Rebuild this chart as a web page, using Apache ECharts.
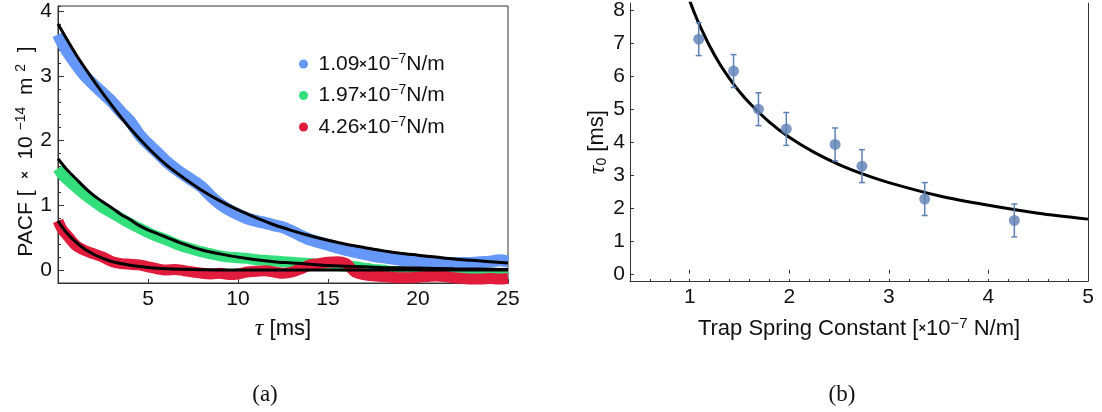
<!DOCTYPE html>
<html>
<head>
<meta charset="utf-8">
<script src="https://cdn.jsdelivr.net/npm/echarts@6/dist/echarts.min.js"></script>
<style>
  html, body { margin: 0; padding: 0; background: #fff; }
  #chart { width: 1102px; height: 412px; }
</style>
</head>
<body>
<div id="chart"></div>
<script>
// panel (a): PACF bands, sampled along tau [ms]
const tBand = [0, 0.25, 0.5, 1, 1.5, 2, 2.5, 3, 3.5, 4, 4.5, 5, 5.5, 6, 6.5, 7, 7.5, 8, 8.5, 9, 9.5, 10,
  10.5, 11, 11.5, 12, 12.5, 13, 13.5, 14, 14.5, 15, 15.5, 16, 16.5, 17, 17.5, 18, 18.5, 19, 19.5, 20,
  20.5, 21, 21.5, 22, 22.5, 23, 23.5, 24, 24.5, 25]
const bandBlue = [3.64, 3.5, 3.38, 3.18, 3.0, 2.86, 2.73, 2.6, 2.44, 2.3, 2.1, 1.95, 1.82, 1.68, 1.57, 1.47,
  1.38, 1.28, 1.14, 1.02, 0.93, 0.86, 0.8, 0.76, 0.73, 0.69, 0.66, 0.6, 0.53, 0.47, 0.43, 0.39, 0.35, 0.31,
  0.28, 0.25, 0.22, 0.2, 0.18, 0.16, 0.15, 0.14, 0.13, 0.12, 0.11, 0.11, 0.11, 0.11, 0.12, 0.13, 0.15, 0.13]
const bandGreen = [1.57, 1.47, 1.4, 1.28, 1.16, 1.06, 0.96, 0.88, 0.8, 0.72, 0.65, 0.58, 0.52, 0.47, 0.41,
  0.36, 0.32, 0.28, 0.25, 0.22, 0.2, 0.19, 0.18, 0.16, 0.15, 0.14, 0.13, 0.12, 0.11, 0.1, 0.09, 0.08, 0.07,
  0.06, 0.05, 0.03, 0.01, 0.0, -0.02, -0.03, -0.04, -0.05, -0.05, -0.06, -0.06, -0.06, -0.06, -0.05, -0.06,
  -0.06, -0.06, -0.06]
const bandRed = [0.76, 0.62, 0.54, 0.38, 0.3, 0.25, 0.2, 0.13, 0.1, 0.09, 0.08, 0.05, 0.02, 0.0, 0.01, -0.01,
  -0.03, -0.05, -0.06, -0.05, -0.07, -0.06, -0.03, -0.02, -0.01, -0.03, -0.05, -0.03, 0.02, 0.08, 0.1, 0.12,
  0.13, 0.1, -0.03, -0.07, -0.09, -0.1, -0.11, -0.12, -0.12, -0.11, -0.1, -0.09, -0.1, -0.12, -0.13, -0.14,
  -0.14, -0.13, -0.14, -0.13]

// panel (a): fitted curves
const fitBlueT = [0, 1, 2, 3, 4, 5, 6, 7, 8, 9, 10, 11, 12, 13, 14, 15, 16, 17, 18, 19, 20, 21, 22, 23, 24, 25]
const fitBlue = [3.8, 3.33, 2.92, 2.54, 2.19, 1.89, 1.63, 1.42, 1.23, 1.07, 0.93, 0.81, 0.7, 0.61, 0.53, 0.46,
  0.4, 0.35, 0.3, 0.26, 0.23, 0.2, 0.17, 0.15, 0.13, 0.11]
const fitGreenT = [0, 0.5, 1, 1.5, 2, 2.5, 3, 3.5, 4, 4.5, 5, 6, 7, 8, 9, 10, 11, 12, 13, 14, 15, 16, 17, 18, 20, 22, 25]
const fitGreen = [1.72, 1.55, 1.41, 1.27, 1.15, 1.05, 0.96, 0.86, 0.78, 0.69, 0.62, 0.51, 0.4, 0.31, 0.25, 0.2,
  0.16, 0.13, 0.11, 0.09, 0.07, 0.06, 0.05, 0.04, 0.03, 0.02, 0.01]
const fitRedT = [0, 0.25, 0.5, 1, 1.5, 2, 2.5, 3, 3.5, 4, 5, 6, 7, 8, 10, 25]
const fitRed = [0.76, 0.66, 0.57, 0.43, 0.32, 0.24, 0.18, 0.13, 0.1, 0.075, 0.04, 0.02, 0.012, 0.006, 0, 0]

const bandNames = ['1.09', '1.97', '4.26']
const bandColors = ['#6497F8', '#33DF7C', '#E11B3B']

// panel (b): tau_0 vs trap spring constant
const kVals = [1.09, 1.44, 1.69, 1.97, 2.46, 2.73, 3.36, 4.26]
const tauVals = [7.13, 6.16, 5.0, 4.4, 3.93, 3.27, 2.27, 1.62]
const tauErr = [0.5, 0.5, 0.5, 0.5, 0.5, 0.5, 0.5, 0.5]
const fitK = [1.0, 1.05, 1.1, 1.2, 1.3, 1.4, 1.5, 1.6, 1.8, 2.0, 2.25, 2.5, 2.75, 3.0, 3.5, 4.0, 4.5, 5.0]
const fitTau = [8.3, 7.9, 7.55, 6.92, 6.38, 5.93, 5.53, 5.19, 4.61, 4.15, 3.69, 3.32, 3.02, 2.77, 2.37, 2.08, 1.84, 1.66]

// tick labels
const leftXTicks = [5, 10, 15, 20, 25]
const leftYTicks = [0, 1, 2, 3, 4]
const rightXTicks = [1, 2, 3, 4, 5]
const rightYTicks = [0, 1, 2, 3, 4, 5, 6, 7, 8]

const FONT = '"Liberation Sans", Arial, sans-serif'
const pointColor = '#5E81B5'
const frameColor = '#333'

// legend / tick text
const richText = {
  i: { fontFamily: '"Liberation Serif", serif', fontStyle: 'italic', fontSize: 23, color: '#111' },
  x: { fontFamily: FONT, fontSize: 13, fontWeight: 'bold', color: '#111' },
  sup: { fontFamily: FONT, fontSize: 14, color: '#111', padding: [0, 0, 10, 0] },
  sub: { fontFamily: FONT, fontSize: 14, color: '#111', padding: [10, 0, 0, 0] },
  a: { fontFamily: FONT, fontSize: 21, color: '#111' }
}
// axis titles, a touch larger
const nameRich = {
  ...richText,
  i: { ...richText.i, fontSize: 24 },
  a: { ...richText.a, fontSize: 22 },
  sup: { ...richText.sup, fontSize: 15 }
}

const isInt = v => Math.abs(v - Math.round(v)) < 1e-6
const pairs = (xs, ys) => xs.map((x, i) => [x, ys[i]])

const chart = echarts.init(document.getElementById('chart'), null, { renderer: 'canvas' })

const tickFont = { fontSize: 21, color: '#111', fontFamily: FONT }

const option = {
  animation: false,
  backgroundColor: '#fff',
  textStyle: { fontFamily: FONT },
  grid: [
    { left: 58, top: 6, width: 450, height: 277, show: true, borderColor: frameColor, borderWidth: 1 },
    { left: 630, top: 0, width: 458, height: 281 }
  ],
  legend: {
    data: bandNames,
    orient: 'vertical',
    left: 294,
    top: 47,
    itemWidth: 20,
    itemHeight: 9,
    itemGap: 9,
    icon: 'circle',
    formatter: name => `{a|${name}}{x|×}{a|10}{sup|−7}{a|N/m}`,
    textStyle: { rich: richText }
  },
  xAxis: [
    {
      gridIndex: 0, type: 'value', min: 0, max: 25, interval: 5,
      axisLine: { onZero: false, lineStyle: { color: frameColor } },
      axisTick: { inside: true, length: 4, lineStyle: { color: frameColor } },
      axisLabel: {
        ...tickFont, margin: 6,
        formatter: v => (leftXTicks.includes(v) ? String(v) : '')
      },
      splitLine: { show: false },
      name: '{i|τ}{a| [ms]}', nameLocation: 'middle', nameGap: 34,
      nameTextStyle: { rich: nameRich }
    },
    {
      gridIndex: 1, type: 'value', min: 0.4, max: 5, interval: 0.2,
      axisLine: { onZero: false, lineStyle: { color: frameColor } },
      axisTick: { inside: true, length: 2, lineStyle: { color: frameColor } },
      axisLabel: {
        ...tickFont, margin: 6,
        formatter: v => (isInt(v) && rightXTicks.includes(Math.round(v)) ? String(Math.round(v)) : '')
      },
      splitLine: { show: false },
      name: '{a|Trap Spring Constant [}{x|×}{a|10}{sup|−7}{a| N/m]}', nameLocation: 'middle', nameGap: 35,
      nameTextStyle: { rich: nameRich }
    },
    {
      gridIndex: 1, type: 'value', min: 0.4, max: 5, position: 'bottom',
      axisLine: { show: false },
      axisTick: { inside: true, length: 4, customValues: rightXTicks, lineStyle: { color: frameColor } },
      axisLabel: { show: false },
      splitLine: { show: false }
    }
  ],
  yAxis: [
    {
      gridIndex: 0, type: 'value', min: -0.2, max: 4.08, interval: 0.2,
      axisLine: { show: true, onZero: false, lineStyle: { color: frameColor } },
      axisTick: { inside: true, length: 3, lineStyle: { color: frameColor } },
      axisLabel: {
        ...tickFont, margin: 6,
        formatter: v => (isInt(v) && leftYTicks.includes(Math.round(v)) ? String(Math.round(v)) : '')
      },
      splitLine: { show: false },
      name: '{a|PACF [  }{x|×}{a|  10 }{sup|−14}{a|  m }{sup|2}{a|  ]}', nameLocation: 'middle', nameGap: 20,
      nameRotate: 90, nameTextStyle: { rich: richText, padding: [0, 14, 0, 0] }
    },
    {
      gridIndex: 0, type: 'value', min: -0.2, max: 4.08, position: 'left',
      axisLine: { show: false },
      axisTick: { inside: true, length: 6, customValues: leftYTicks, lineStyle: { color: frameColor } },
      axisLabel: { show: false },
      splitLine: { show: false }
    },
    {
      gridIndex: 1, type: 'value', min: -0.22, max: 8.22,
      axisLine: { show: true, onZero: false, lineStyle: { color: frameColor } },
      axisTick: { inside: true, length: 4, customValues: rightYTicks, lineStyle: { color: frameColor } },
      axisLabel: { ...tickFont, margin: 5, customValues: rightYTicks },
      splitLine: { show: false },
      name: '{i|τ}{sub|0}{a| [ms]}', nameLocation: 'middle', nameGap: 20,
      nameRotate: 90, nameTextStyle: { rich: nameRich }
    },
    {
      gridIndex: 1, type: 'value', min: -0.22, max: 8.22, position: 'right',
      axisLine: { show: true, onZero: false, lineStyle: { color: frameColor } },
      axisTick: { show: false },
      axisLabel: { show: false },
      splitLine: { show: false }
    }
  ],
  graphic: [
    { type: 'text', x: 265, y: 395, style: { text: '(a)', fontSize: 23, fontFamily: '"Liberation Serif", serif', fill: '#111', align: 'center', verticalAlign: 'middle' } },
    { type: 'text', x: 842, y: 395, style: { text: '(b)', fontSize: 23, fontFamily: '"Liberation Serif", serif', fill: '#111', align: 'center', verticalAlign: 'middle' } }
  ],
  series: [
    ...[bandBlue, bandGreen, bandRed].map((band, i) => ({
      name: bandNames[i],
      type: 'line',
      xAxisIndex: 0,
      yAxisIndex: 0,
      data: pairs(tBand, band),
      showSymbol: false,
      smooth: 0.3,
      color: bandColors[i],
      lineStyle: { width: i === 0 ? 12 : 11, color: bandColors[i], cap: 'butt' },
      z: 2
    })),
    ...[[fitBlueT, fitBlue], [fitGreenT, fitGreen], [fitRedT, fitRed]].map(([t, v]) => ({
      type: 'line',
      xAxisIndex: 0,
      yAxisIndex: 0,
      data: pairs(t, v),
      showSymbol: false,
      smooth: 0.3,
      lineStyle: { width: 3, color: '#000' },
      z: 3
    })),
    {
      type: 'line',
      xAxisIndex: 1,
      yAxisIndex: 2,
      data: pairs(fitK, fitTau),
      showSymbol: false,
      smooth: 0.3,
      lineStyle: { width: 3, color: '#000' },
      z: 3
    },
    {
      type: 'custom',
      xAxisIndex: 1,
      yAxisIndex: 2,
      data: kVals.map((k, i) => [k, tauVals[i], tauErr[i]]),
      renderItem: (params, api) => {
        const x = api.value(0)
        const y = api.value(1)
        const e = api.value(2)
        const top = api.coord([x, y + e])
        const bot = api.coord([x, y - e])
        const w = 3
        const st = { stroke: pointColor, lineWidth: 1.5 }
        return {
          type: 'group',
          children: [
            { type: 'line', shape: { x1: top[0], y1: top[1], x2: bot[0], y2: bot[1] }, style: st },
            { type: 'line', shape: { x1: top[0] - w, y1: top[1], x2: top[0] + w, y2: top[1] }, style: st },
            { type: 'line', shape: { x1: bot[0] - w, y1: bot[1], x2: bot[0] + w, y2: bot[1] }, style: st }
          ]
        }
      },
      z: 4
    },
    {
      type: 'scatter',
      xAxisIndex: 1,
      yAxisIndex: 2,
      data: pairs(kVals, tauVals),
      symbol: 'circle',
      symbolSize: 11,
      itemStyle: { color: pointColor },
      z: 5
    }
  ]
}

chart.setOption(option)
</script>
</body>
</html>
